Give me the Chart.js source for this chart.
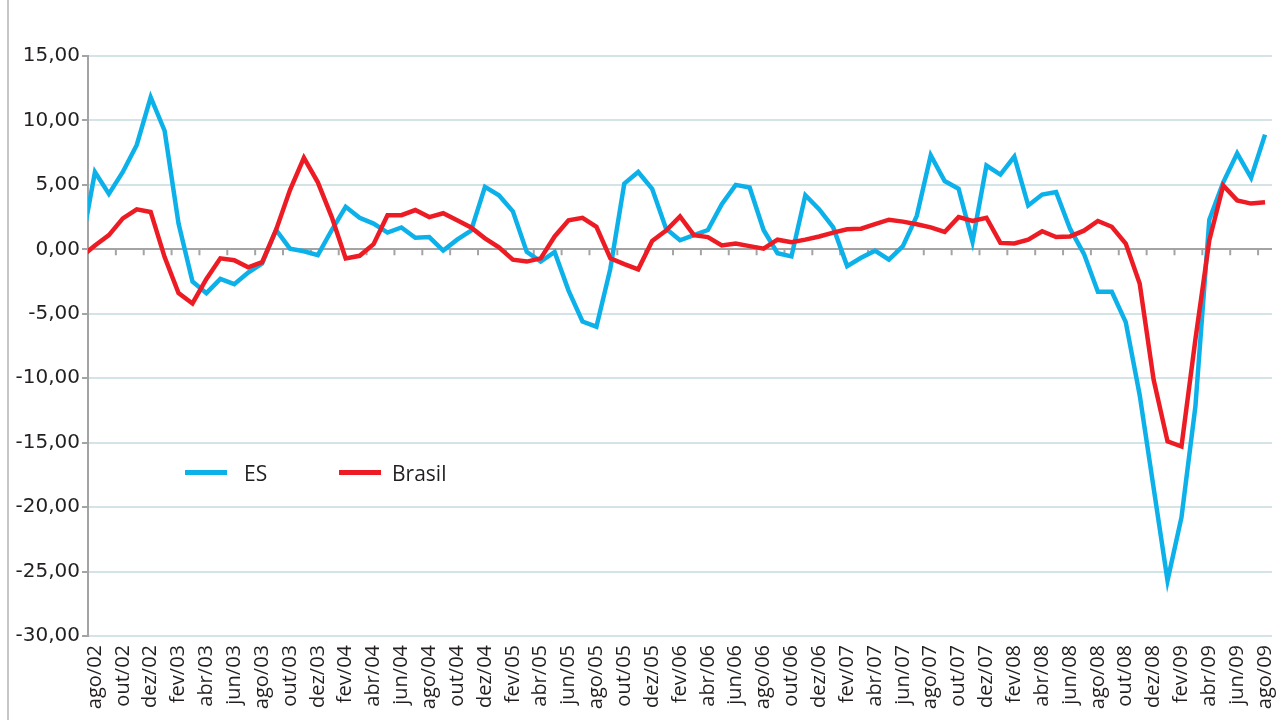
<!DOCTYPE html>
<html>
<head>
<meta charset="utf-8">
<title>ES x Brasil</title>
<script src="https://cdn.jsdelivr.net/npm/chart.js@4.4.0/dist/chart.umd.min.js"></script>
<style>
    html, body { margin: 0; padding: 0; background: #fff; }
    #wrap { position: relative; width: 1279px; height: 720px; }
    #frame { position: absolute; left: 7px; top: 0; height: 720px; border-left: 2px solid #c6c6c6; }
    .lg-line { position: absolute; height: 5px; width: 42px; top: 470px; }
    .lg-text { position: absolute; top: 459px; font: 21px 'Open Sans', sans-serif; line-height: 28px; color: #231f20; }
</style>
</head>
<body>
<div id="wrap">
    <canvas id="chart" width="1279" height="720"></canvas>
    <div id="frame"></div>
    <div id="legend"></div>
</div>
<script>
// month labels, jul/02 .. ago/09 (jul/02 only feeds the line stub left of the axis)
const monthNames = ['jan', 'fev', 'mar', 'abr', 'mai', 'jun', 'jul', 'ago', 'set', 'out', 'nov', 'dez'];
const categories = [];
for (let y = 2002; y <= 2009; y++) {
    monthNames.forEach(function(m, i) {
        const idx = (y - 2002) * 12 + i;
        if (idx >= 6 && idx <= 91) categories.push(m + '/' + String(y).slice(2));
    });
}
const firstShown = 'ago/02';

const esValues = [
    0.1,
    6.0, 4.3, 6.0, 8.1, 11.8, 9.2, 2.0, -2.5, -3.4, -2.3, -2.7, -1.8,
    -1.1, 1.5, 0.05, -0.15, -0.45, 1.5, 3.3, 2.45, 2.0, 1.3, 1.7, 0.9,
    0.95, -0.1, 0.75, 1.45, 4.85, 4.2, 2.95, -0.2, -0.95, -0.2, -3.2, -5.6,
    -6.0, -1.5, 5.1, 6.0, 4.7, 1.6, 0.7, 1.1, 1.5, 3.5, 5.0, 4.8,
    1.5, -0.3, -0.55, 4.2, 3.1, 1.7, -1.3, -0.65, -0.1, -0.8, 0.25, 2.6,
    7.3, 5.3, 4.7, 0.6, 6.5, 5.8, 7.2, 3.4, 4.25, 4.45, 1.6, -0.35,
    -3.3, -3.3, -5.65, -11.3, -18.5, -25.7, -20.8, -12.2, 2.3, 5.2, 7.45, 5.55,
    8.9
];

const brasilValues = [
    -0.6,
    0.3, 1.1, 2.4, 3.1, 2.9, -0.6, -3.4, -4.2, -2.3, -0.7, -0.85, -1.4,
    -1.0, 1.5, 4.6, 7.1, 5.2, 2.5, -0.7, -0.5, 0.4, 2.65, 2.65, 3.05,
    2.5, 2.8, 2.25, 1.7, 0.85, 0.15, -0.8, -0.95, -0.7, 1.0, 2.25, 2.45,
    1.75, -0.7, -1.15, -1.55, 0.65, 1.45, 2.55, 1.1, 0.95, 0.3, 0.45, 0.25,
    0.05, 0.75, 0.55, 0.75, 1.0, 1.3, 1.55, 1.6, 1.95, 2.3, 2.15, 1.95,
    1.7, 1.35, 2.5, 2.2, 2.45, 0.5, 0.45, 0.75, 1.4, 0.95, 1.0, 1.45,
    2.2, 1.75, 0.45, -2.65, -10.1, -14.9, -15.3, -7.0, 0.7, 4.95, 3.8, 3.55,
    3.65
];

const yMin = -30;
const yMax = 15;
const yStep = 5;

const seriesList = [
    { label: 'ES', data: esValues, color: '#0db1ea', legendX: 185, textX: 244 },
    { label: 'Brasil', data: brasilValues, color: '#ed1c24', legendX: 339, textX: 392 }
];

const axisGray = '#a4a4a4';
const gridColor = '#d4e3e6';
const textColor = '#231f20';

// small tick marks hanging under the zero line, every two months
const zeroTicks = {
    id: 'zeroTicks',
    beforeDatasetsDraw(chart) {
        const xs = chart.scales.x;
        const y0 = chart.scales.y.getPixelForValue(0);
        const c = chart.ctx;
        c.save();
        c.strokeStyle = axisGray;
        c.lineWidth = 2;
        c.beginPath();
        for (let i = xs.min + 2; i <= xs.max; i += 2) {
            const px = (xs.getPixelForValue(i - 1) + xs.getPixelForValue(i)) / 2;
            c.moveTo(px, y0);
            c.lineTo(px, y0 + 6);
        }
        c.stroke();
        c.restore();
    }
};

function buildLegend() {
    const box = document.getElementById('legend');
    seriesList.forEach(function(s) {
        const line = document.createElement('div');
        line.className = 'lg-line';
        line.style.left = s.legendX + 'px';
        line.style.background = s.color;
        const txt = document.createElement('div');
        txt.className = 'lg-text';
        txt.style.left = s.textX + 'px';
        txt.textContent = s.label;
        box.appendChild(line);
        box.appendChild(txt);
    });
}

document.fonts.load("21px 'Open Sans'").then(draw, draw);

function draw() {
    buildLegend();
    new Chart(document.getElementById('chart'), {
        type: 'line',
        data: {
            labels: categories,
            datasets: seriesList.map(function(s, i) {
                return {
                    label: s.label,
                    data: s.data,
                    borderColor: s.color,
                    backgroundColor: s.color,
                    borderWidth: 4.5,
                    pointRadius: 0,
                    tension: 0,
                    clip: 0,
                    order: seriesList.length - i
                };
            })
        },
        options: {
            responsive: false,
            animation: false,
            devicePixelRatio: 1,
            layout: { padding: { top: 56, right: 7, bottom: 0, left: 0 } },
            plugins: {
                legend: { display: false },
                tooltip: { enabled: false }
            },
            scales: {
                x: {
                    type: 'category',
                    min: firstShown,
                    offset: true,
                    grid: { display: false, tickLength: 8 },
                    border: { display: false },
                    ticks: {
                        autoSkip: false,
                        minRotation: 90,
                        maxRotation: 90,
                        padding: 1,
                        color: textColor,
                        font: { family: 'Open Sans', size: 20 },
                        callback: function(value, index) {
                            return index % 2 === 0 ? this.getLabelForValue(value) : '';
                        }
                    },
                    afterFit: function(scale) {
                        scale.height = 84;
                        scale.paddingLeft = 0;
                        scale.paddingRight = 0;
                    }
                },
                y: {
                    min: yMin,
                    max: yMax,
                    grid: {
                        color: function(ctx) {
                            return ctx.tick && ctx.tick.value === 0 ? axisGray : gridColor;
                        },
                        lineWidth: 2,
                        tickColor: axisGray,
                        tickLength: 6
                    },
                    border: { color: axisGray, width: 2 },
                    ticks: {
                        stepSize: yStep,
                        padding: 2,
                        color: textColor,
                        font: { family: 'DejaVu Sans', size: 20 },
                        callback: function(v) { return v.toFixed(2).replace('.', ','); }
                    },
                    afterFit: function(scale) { scale.width = 88; }
                }
            }
        },
        plugins: [zeroTicks]
    });
}
</script>
</body>
</html>
